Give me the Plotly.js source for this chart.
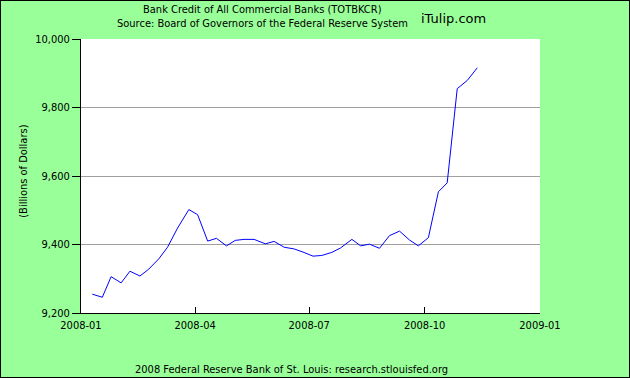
<!DOCTYPE html>
<html>
<head>
<meta charset="utf-8">
<script src="https://cdn.plot.ly/plotly-3.0.1.min.js"></script>
<style>
html,body{margin:0;padding:0;background:#99FF99;}
#wrap{position:relative;width:630px;height:378px;}
#chart{width:630px;height:378px;}
#frame{position:absolute;left:0;top:0;width:630px;height:378px;box-sizing:border-box;border:1px solid #000;pointer-events:none;}
</style>
</head>
<body>
<div id="wrap"><div id="chart"></div><div id="frame"></div></div>
<script>
const dates = ["2008-01-10","2008-01-18","2008-01-25","2008-02-02","2008-02-09","2008-02-17","2008-02-24",
  "2008-03-03","2008-03-10","2008-03-18","2008-03-27","2008-04-03","2008-04-11","2008-04-18","2008-04-26",
  "2008-05-03","2008-05-10","2008-05-18","2008-05-27","2008-06-03","2008-06-11","2008-06-19","2008-06-26",
  "2008-07-04","2008-07-11","2008-07-19","2008-07-26","2008-08-04","2008-08-11","2008-08-18","2008-08-26",
  "2008-09-03","2008-09-11","2008-09-19","2008-09-26","2008-10-04","2008-10-12","2008-10-19","2008-10-27",
  "2008-11-04","2008-11-12"];
const bankCredit = [9255,9246,9306,9288,9322,9308,9328,
  9358,9392,9448,9502,9487,9410,9418,9396,
  9412,9415,9415,9402,9409,9392,9387,9378,
  9366,9368,9377,9390,9415,9396,9401,9389,
  9426,9439,9413,9396,9420,9554,9580,9855,
  9879,9916];
const xTickVals = ["2008-01-01","2008-04-01","2008-07-01","2008-10-01","2009-01-01"];
const xTickText = ["2008-01","2008-04","2008-07","2008-10","2009-01"];
const yTickVals = [9200,9400,9600,9800,10000];
const yTickText = ["9,200","9,400","9,600","9,800","10,000"];
const titleLine1 = "Bank Credit of All Commercial Banks (TOTBKCR)";
const titleLine2 = "Source: Board of Governors of the Federal Reserve System";
const brand = "iTulip.com";
const yTitle = "(Billions of Dollars)";
const footer = "2008 Federal Reserve Bank of St. Louis: research.stlouisfed.org";

const F = "DejaVu Sans Condensed, DejaVu Sans, sans-serif";
const trace = {x: dates, y: bankCredit, type: 'scatter', mode: 'lines',
  line: {color: '#0000FF', width: 1}, hoverinfo: 'skip'};
const layout = {
  width: 630, height: 378,
  margin: {l: 81, r: 90, t: 39, b: 65, pad: 0},
  paper_bgcolor: '#99FF99', plot_bgcolor: '#FFFFFF',
  showlegend: false,
  xaxis: {type: 'date', range: ['2008-01-01','2009-01-01'], tickmode: 'array',
    tickvals: xTickVals, ticktext: xTickText, ticks: 'inside', ticklen: 6, tickcolor: '#000',
    showline: true, linecolor: '#000', linewidth: 1, showgrid: false, zeroline: false,
    ticklabelstandoff: 2,
    tickfont: {family: F, size: 11, color: '#000'}, fixedrange: true},
  yaxis: {range: [9200, 10000], tickmode: 'array', tickvals: yTickVals, ticktext: yTickText,
    ticks: 'outside', ticklen: 8, tickcolor: '#000', showline: true, linecolor: '#000', linewidth: 1,
    showgrid: true, gridcolor: '#A0A0A0', gridwidth: 1, zeroline: false,
    tickfont: {family: F, size: 11, color: '#000'}, fixedrange: true},
  annotations: [
    {text: titleLine1, xref: 'paper', yref: 'paper', x: 0.3965, y: 1.108, xanchor: 'center', yanchor: 'middle', showarrow: false, font: {family: F, size: 11, color: '#000'}},
    {text: titleLine2, xref: 'paper', yref: 'paper', x: 0.3965, y: 1.055, xanchor: 'center', yanchor: 'middle', showarrow: false, font: {family: F, size: 11, color: '#000'}},
    {text: brand, xref: 'paper', yref: 'paper', x: 0.8115, y: 1.073, xanchor: 'center', yanchor: 'middle', showarrow: false, font: {family: "DejaVu Sans, sans-serif", size: 13, color: '#000'}},
    {text: yTitle, xref: 'paper', yref: 'paper', x: -0.127, y: 0.518, xanchor: 'center', yanchor: 'middle', textangle: -90, showarrow: false, font: {family: F, size: 11, color: '#000'}},
    {text: footer, xref: 'paper', yref: 'paper', x: 0.458, y: -0.2055, xanchor: 'center', yanchor: 'middle', showarrow: false, font: {family: F, size: 11, color: '#000'}}
  ]
};
Plotly.newPlot('chart', [trace], layout, {staticPlot: true, displayModeBar: false});
</script>
</body>
</html>
